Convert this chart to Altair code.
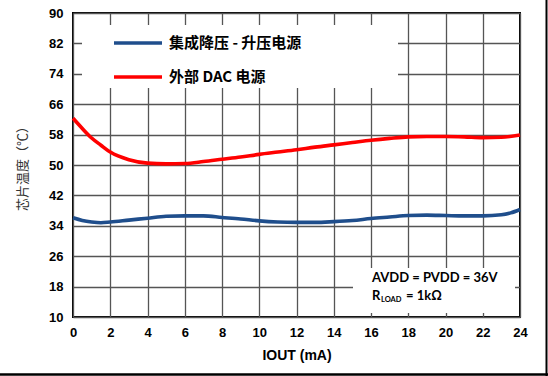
import altair as alt
import pandas as pd

# ---- data ----
series_names = ["集成降压 - 升压电源", "外部 DAC 电源"]
series_colors = ["#1F4E8C", "#FF0000"]

blue_x = [0, 0.5, 1, 1.5, 2, 3, 4, 5, 6, 7, 8, 9, 10, 11, 12, 13, 14, 15, 16, 17, 18, 19, 20, 21, 22, 23, 23.5, 24]
blue_y = [36.1, 35.4, 35.0, 34.8, 35.0, 35.5, 36.0, 36.5, 36.6, 36.6, 36.2, 35.8, 35.3, 35.0, 34.9, 34.9, 35.1, 35.4,
          35.9, 36.3, 36.7, 36.8, 36.7, 36.6, 36.6, 36.9, 37.4, 38.3]

red_x = [0, 0.5, 1, 1.5, 2, 3, 4, 5, 6, 7, 8, 9, 10, 11, 12, 13, 14, 15, 16, 17, 18, 19, 20, 21, 22, 23, 24]
red_y = [62.3, 59.6, 57.1, 55.2, 53.4, 51.4, 50.5, 50.3, 50.4, 50.9, 51.5, 52.1, 52.8, 53.4, 54.0, 54.7, 55.3, 55.9,
         56.5, 57.0, 57.4, 57.5, 57.5, 57.4, 57.2, 57.3, 57.9]

x_ticks = list(range(0, 25, 2))
y_ticks = list(range(10, 91, 8))

note_line1 = "AVDD = PVDD = 36V"
note_r = "R"
note_sub = "LOAD"
note_rest = "= 1kΩ"

rows = []
for xv, yv in zip(blue_x, blue_y):
    rows.append({"iout": xv, "temp": yv, "series": series_names[0]})
for xv, yv in zip(red_x, red_y):
    rows.append({"iout": xv, "temp": yv, "series": series_names[1]})
df = pd.DataFrame(rows)

W, H = 447, 304
PL, PT = 73, 13

x_scale = alt.Scale(domain=[0, 24], nice=False)
y_scale = alt.Scale(domain=[10, 90], nice=False)

lines = alt.Chart(df).mark_line(strokeWidth=3.6, interpolate="monotone").encode(
    x=alt.X("iout:Q", scale=x_scale,
            axis=alt.Axis(values=x_ticks, title="IOUT (mA)", grid=True, tickSize=0, domain=False,
                          labelPadding=9, titlePadding=9, labelFont="Liberation Sans",
                          labelFontWeight="bold", labelFontSize=13, labelColor="black",
                          titleFont="Liberation Sans", titleFontWeight="bold", titleFontSize=14,
                          titleColor="black", gridColor="#555555", gridWidth=1.3, gridOpacity=1,
                          labelFlush=False)),
    y=alt.Y("temp:Q", scale=y_scale,
            axis=alt.Axis(values=y_ticks, title="芯片温度（℃）", grid=True, tickSize=0, domain=False,
                          labelPadding=10, titlePadding=19, labelFont="Liberation Sans",
                          labelFontWeight="bold", labelFontSize=13, labelColor="black",
                          titleFont="Noto Sans CJK SC", titleFontWeight="normal", titleFontSize=13,
                          titleColor="#333333", gridColor="#555555", gridWidth=1.3, gridOpacity=1,
                          labelFlush=False)),
    color=alt.Color("series:N", scale=alt.Scale(domain=series_names, range=series_colors),
                    legend=alt.Legend(orient="none", legendX=39, legendY=4, title=None,
                                      symbolType="stroke", symbolSize=2304, symbolStrokeWidth=3.6,
                                      labelFont="Noto Sans CJK SC", labelFontSize=15,
                                      labelFontWeight="bold", labelColor="black", labelOffset=5,
                                      rowPadding=-6, padding=0, labelLimit=400)),
)

# white boxes hiding the grid behind legend and note
legend_box = alt.Chart(pd.DataFrame({"k": [0]})).mark_rect(color="white").encode(
    x=alt.value(82 - PL), x2=alt.value(398 - PL), y=alt.value(25 - PT), y2=alt.value(88 - PT))
note_box = alt.Chart(pd.DataFrame({"k": [0]})).mark_rect(color="white").encode(
    x=alt.value(353 - PL), x2=alt.value(515 - PL), y=alt.value(268 - PT), y2=alt.value(313 - PT))

txt_base = alt.Chart(pd.DataFrame({"k": [0]}))
t1 = txt_base.mark_text(text=note_line1, font="Lato", fontWeight="bold", fontSize=13, align="left",
                        baseline="alphabetic", color="black").encode(
    x=alt.value(372 - PL), y=alt.value(282 - PT))
t2 = txt_base.mark_text(text=note_r, font="Lato", fontWeight="bold", fontSize=13, align="left",
                        baseline="alphabetic", color="black").encode(
    x=alt.value(372 - PL), y=alt.value(300 - PT))
t3 = txt_base.mark_text(text=note_sub, font="Lato", fontWeight="bold", fontSize=7.5, align="left",
                        baseline="alphabetic", color="black").encode(
    x=alt.value(381 - PL), y=alt.value(302 - PT))
t4 = txt_base.mark_text(text=note_rest, font="Lato", fontWeight="bold", fontSize=13, align="left",
                        baseline="alphabetic", color="black").encode(
    x=alt.value(406 - PL), y=alt.value(300 - PT))

# outer image border (right and bottom)
border_r = txt_base.mark_rule(color="black", strokeWidth=2).encode(
    x=alt.value(546.5 - PL), y=alt.value(-PT), y2=alt.value(376 - PT))
border_b = txt_base.mark_rule(color="black", strokeWidth=2.5).encode(
    x=alt.value(-PL), x2=alt.value(548 - PL), y=alt.value(374.5 - PT))

chart = alt.layer(legend_box, note_box, lines, t1, t2, t3, t4, border_r, border_b).properties(
    width=W, height=H,
    autosize=alt.AutoSizeParams(type="none"),
    padding={"left": PL, "top": PT, "right": 548 - PL - W, "bottom": 376 - PT - H},
    background="white",
).configure_view(stroke="black", strokeWidth=2)

chart.save("out.html", embed_options={"renderer": "svg", "actions": False})
